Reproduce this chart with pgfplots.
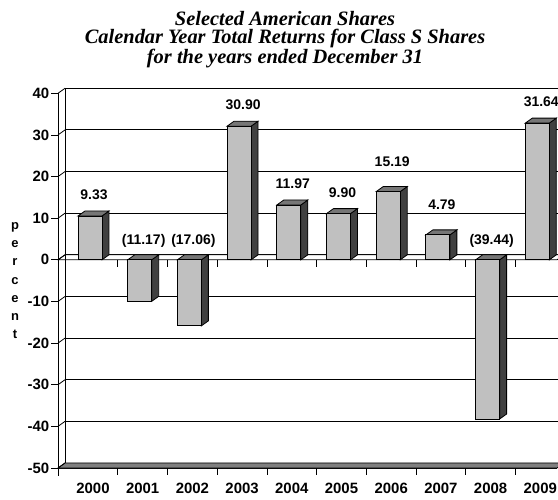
\documentclass[border=0pt]{standalone}
\usepackage{pgfplots}
\pgfplotsset{compat=1.18}
\usepackage{fontspec}
\setmainfont{Liberation Serif}
\newfontfamily\arial{Liberation Sans}
\definecolor{barfront}{HTML}{C0C0C0}
\definecolor{bartop}{HTML}{767676}
\definecolor{barside}{HTML}{404040}
\definecolor{floorgray}{HTML}{808080}
\pgfdeclareplotmark{nothing}{}
\newcommand\xlo{-0.704}
\newcommand\xhi{9.336}

\begin{document}
\begin{tikzpicture}
\useasboundingbox (0,0) rectangle (558bp,500bp);
\clip (0,0) rectangle (558bp,500bp);
\begin{axis}[
  at={(58bp,32bp)}, anchor=south west,
  scale only axis, width=499bp, height=374.7bp,
  xmin=\xlo, xmax=\xhi, ymin=-50, ymax=40,
  clip=false,
  axis x line*=bottom, axis y line*=left,
  axis line style={-, line width=0.8bp},
  xtick={0,...,9},
  xticklabels={2000,2001,2002,2003,2004,2005,2006,2007,2008,2009},
  xtick style={draw=none},
  ytick={-50,-40,...,40},
  ytick pos=left, xtick pos=bottom,
  tick align=outside,
  major tick length=7bp,
  ytick style={line width=0.8bp, black},
  ymajorgrids,
  major grid style={black, line width=0.9bp, xshift=7bp, yshift=5bp},
  ticklabel style={font=\arial\bfseries\fontsize{15}{15}\selectfont},
  /pgf/number format/assume math mode=true,
  yticklabel style={inner sep=1.5bp},
  xticklabel style={inner sep=2bp, yshift=-6bp},
  title={Selected American Shares\\Calendar Year Total Returns for Class S Shares\\for the years ended December 31},
  title style={font=\bfseries\itshape\fontsize{20.5}{18.5}\selectfont, align=center,
    at={(0.455,1)}, anchor=south, yshift=16bp},
  ylabel={p\\e\\r\\c\\e\\n\\t},
  ylabel style={at={(rel axis cs:0,0.5)}, rotate=-90, anchor=center, xshift=-43bp,
    align=center, font=\arial\bfseries\fontsize{13}{18.3}\selectfont},
]
% floor and zero plane
\draw[line width=0.8bp, fill=floorgray] (axis cs:\xlo,-50) -- ++(7bp,5bp)
  -- ([xshift=7bp,yshift=5bp]axis cs:\xhi,-50) -- (axis cs:\xhi,-50) -- cycle;
\draw[line width=0.8bp, fill=white] (axis cs:\xlo,0) -- ++(7bp,5bp)
  -- ([xshift=7bp,yshift=5bp]axis cs:\xhi,0) -- (axis cs:\xhi,0) -- cycle;
% left wall
\draw[line width=1bp] ([xshift=7bp,yshift=5bp]axis cs:\xlo,-50) -- ([xshift=7bp,yshift=5bp]axis cs:\xlo,40);
\pgfplotsinvokeforeach{-50,-40,...,40}{\draw[line width=0.8bp] (axis cs:\xlo,#1) -- ++(7bp,5bp);}
% category ticks
\pgfplotsinvokeforeach{0.5,1.5,...,8.5}{%
  \draw[line width=0.8bp] (axis cs:#1,0) -- ++(0bp,-7bp);
  \draw[line width=0.8bp] (axis cs:#1,-50) -- ++(0bp,-7bp);}
\draw[line width=0.8bp] (axis cs:\xlo,-50) -- ++(0bp,-8bp);

% bars
\addplot[scatter, only marks, mark=nothing,
  visualization depends on={rawy \as \barval},
  scatter/@pre marker code/.code={%
    \pgfmathsetmacro\negv{0-(\barval)}%
    \draw[line width=0.8bp, fill=barside] ([xshift=9bp]axis direction cs:0,\negv) -- ++(7bp,5bp)
      -- (16bp,10bp) -- (9bp,5bp) -- cycle;
    \ifdim\negv pt<0pt
      \draw[line width=0.8bp, fill=bartop] (-15bp,5bp) -- (9bp,5bp) -- (16bp,10bp) -- (-8bp,10bp) -- cycle;
    \else
      \draw[line width=0.8bp, fill=bartop] ([xshift=-15bp]axis direction cs:0,\negv) -- ++(24bp,0bp)
        -- ++(7bp,5bp) -- ++(-24bp,0bp) -- cycle;
    \fi
    \draw[line width=0.8bp, fill=barfront] ([xshift=-15bp]axis direction cs:0,\negv) rectangle (9bp,5bp);
  },
  scatter/@post marker code/.code={},
] coordinates {
  (0,9.33) (1,-11.17) (2,-17.06) (3,30.90) (4,11.97)
  (5,9.90) (6,15.19) (7,4.79) (8,-39.44) (9,31.64)
};

% value labels
\pgfplotsset{lbl/.style={draw=none, mark=none, nodes near coords, point meta=explicit symbolic,
  every node near coord/.style={anchor=center, xshift=1bp, yshift=#1,
    font=\arial\bfseries\fontsize{14}{14}\selectfont}}}
\addplot[lbl=26bp] coordinates {(0,9.33) [9.33] (3,30.90) [30.90] (4,11.97) [11.97] (5,9.90) [9.90] (9,31.64) [31.64]};
\addplot[lbl=35bp] coordinates {(6,15.19) [15.19] (7,4.79) [4.79]};
\addplot[lbl=19bp] coordinates {(1,0) [(11.17)] (2,0) [(17.06)] (8,0) [(39.44)]};
\end{axis}
\end{tikzpicture}
\end{document}
